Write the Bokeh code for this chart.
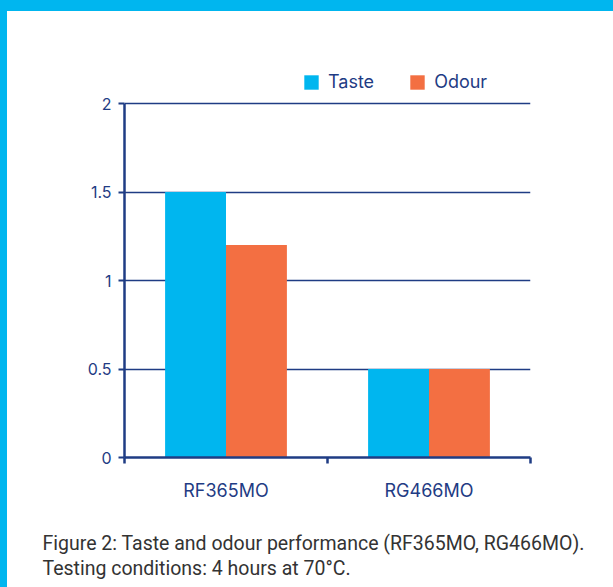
from bokeh.plotting import figure
from bokeh.models import (FixedTicker, Legend, LegendItem, Title, ColumnDataSource, Range1d)
from bokeh.embed import file_html
from bokeh.resources import INLINE

categories = ["RF365MO", "RG466MO"]
series_names = ["Taste", "Odour"]
taste = [1.5, 0.5]
odour = [1.2, 0.5]
y_ticks = [0, 0.5, 1, 1.5, 2]
y_tick_labels = ["0", "0.5", "1", "1.5", "2"]
caption_lines = ["Figure 2: Taste and odour performance (RF365MO, RG466MO).",
                 "Testing conditions: 4 hours at 70\u00b0C."]

CYAN = "#00b6ef"
ORANGE = "#f36f42"
NAVY = "#1f3c84"
FONT = "Inter"

# layout geometry (pixels, inside the figure canvas)
FRAME_TOP = 49
FRAME_BOTTOM = 446
AXIS_TOP = 92
y_max = y_ticks[-1]
y_end = y_max * (FRAME_BOTTOM - FRAME_TOP) / (FRAME_BOTTOM - AXIS_TOP)

centers = [i + 0.5 for i in range(len(categories))]
src = ColumnDataSource(dict(
    xt=[c - 0.15 for c in centers],
    xo=[c + 0.15 for c in centers],
    taste=taste, odour=odour))

p = figure(width=613, height=587, output_backend="svg", toolbar_location=None,
           x_range=Range1d(0, len(categories)), y_range=Range1d(0, y_end),
           min_border_left=117, min_border_right=90, min_border_top=FRAME_TOP,
           min_border_bottom=587 - FRAME_BOTTOM)
p.styles = {"border-top": "11px solid " + CYAN, "border-left": "7px solid " + CYAN}
p.outline_line_color = None
p.background_fill_color = "white"
p.border_fill_color = "white"

r1 = p.vbar(x="xt", top="taste", width=0.3, source=src, color=CYAN, line_color=None)
r2 = p.vbar(x="xo", top="odour", width=0.3, source=src, color=ORANGE, line_color=None)

# y axis
p.yaxis.bounds = (0, y_max)
p.yaxis.ticker = FixedTicker(ticks=y_ticks)
p.yaxis.major_label_overrides = {t: l for t, l in zip(y_ticks, y_tick_labels)}
p.yaxis.axis_line_color = NAVY
p.yaxis.axis_line_width = 2.5
p.yaxis.major_tick_line_color = NAVY
p.yaxis.major_tick_line_width = 2
p.yaxis.major_tick_out = 6
p.yaxis.major_tick_in = 0
p.yaxis.minor_tick_line_color = None
p.yaxis.major_label_standoff = 7
p.yaxis.major_label_text_font = FONT
p.yaxis.major_label_text_font_size = "16px"
p.yaxis.major_label_text_color = NAVY

# x axis
p.xaxis.ticker = FixedTicker(ticks=centers, minor_ticks=list(range(len(categories) + 1)))
p.xaxis.major_label_overrides = {c: n for c, n in zip(centers, categories)}
p.xaxis.axis_line_color = NAVY
p.xaxis.axis_line_width = 2.5
p.xaxis.major_tick_line_color = None
p.xaxis.minor_tick_line_color = NAVY
p.xaxis.minor_tick_line_width = 2.5
p.xaxis.minor_tick_out = 6
p.xaxis.minor_tick_in = 0
p.xaxis.major_label_standoff = 16
p.xaxis.major_label_text_font = FONT
p.xaxis.major_label_text_font_size = "18px"
p.xaxis.major_label_text_color = NAVY

p.xgrid.grid_line_color = None
p.ygrid.ticker = FixedTicker(ticks=y_ticks)
p.ygrid.grid_line_color = NAVY
p.ygrid.grid_line_width = 1.5

legend = Legend(items=[LegendItem(label=series_names[0], renderers=[r1]),
                       LegendItem(label=series_names[1], renderers=[r2])],
                location=(178, FRAME_BOTTOM - 81), orientation="horizontal",
                glyph_width=18, glyph_height=18, label_standoff=8, spacing=34,
                padding=0, margin=0, border_line_color=None,
                background_fill_alpha=0,
                label_text_font=FONT, label_text_font_size="18px",
                label_text_color=NAVY, label_height=18)
p.add_layout(legend, "center")

# spacer between axis and caption
p.add_layout(Title(text=" ", text_font_size="1px", standoff=23), "below")
for line in caption_lines:
    p.add_layout(Title(text=line, align="left", offset=-82, standoff=0,
                       text_font="Roboto", text_font_size="19.5px",
                       text_font_style="normal", text_color="#333333"), "below")

open("out.html", "w").write(file_html(p, INLINE))
